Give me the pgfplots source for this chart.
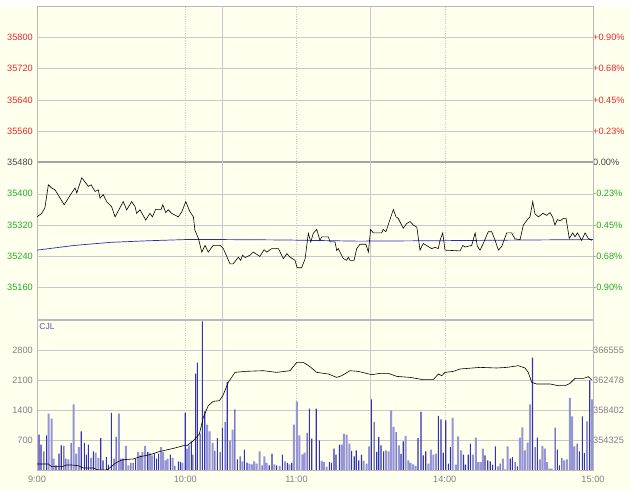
\documentclass[border=0pt]{standalone}
\usepackage{fontspec}
\setmainfont{Liberation Sans}
\usepackage{pgfplots}
\pgfplotsset{compat=1.18}
\usepackage{pgfplotstable}

\definecolor{bg}{RGB}{255,255,238}
\definecolor{gridcol}{RGB}{200,200,200}
\definecolor{framecol}{RGB}{185,185,185}
\definecolor{zerocol}{RGB}{165,165,165}
\definecolor{upred}{RGB}{240,40,40}
\definecolor{dngreen}{RGB}{40,170,40}
\definecolor{zerotxt}{RGB}{70,70,70}
\definecolor{lbltxt}{RGB}{130,130,130}
\definecolor{avgblue}{RGB}{40,40,190}
\definecolor{dblue}{RGB}{50,50,180}
\definecolor{lblue}{RGB}{150,150,215}
\definecolor{cjlcol}{RGB}{90,80,190}

% price (minutes of trading, index value)
\pgfplotstableread{
m p
0 35341
1.9 35350
3.2 35364
4.6 35423
5.9 35415
7.3 35410
11.0 35372
14.0 35402
15.4 35415
16.1 35402
18.1 35441
20.8 35419
21.9 35423
23.5 35406
24.8 35410
25.5 35389
26.8 35398
28.2 35380
30.2 35367
31.6 35341
34.9 35380
36.3 35359
38.3 35380
39.7 35367
40.3 35350
41.7 35359
44.0 35333
45.7 35350
46.7 35341
48.0 35360
50.2 35360
50.9 35372
52.1 35352
53.1 35359
54.5 35350
57.2 35341
58.6 35354
60.2 35380
61.9 35354
63.3 35341
63.9 35307
65.3 35286
66.7 35251
68.0 35268
69.3 35251
71.3 35268
74.1 35268
75.4 35260
78.1 35221
79.4 35221
81.5 35238
82.4 35230
83.2 35243
84.2 35237
86.2 35243
87.5 35251
90.2 35240
91.9 35257
93.0 35251
95.0 35260
97.7 35260
99.7 35234
101.1 35247
102.4 35238
104.4 35230
105.3 35211
107.1 35211
108.5 35234
109.8 35299
110.8 35277
111.8 35299
113.2 35309
114.5 35281
115.2 35290
117.9 35290
118.6 35277
120.6 35277
121.3 35255
121.9 35260
124.0 35234
125.3 35230
126.0 35238
126.7 35230
128.3 35230
129.4 35260
130.7 35271
133.1 35271
134.1 35251
135.0 35309
136.1 35300
139.5 35300
140.1 35309
141.2 35303
144.2 35360
145.3 35341
146.2 35337
148.2 35312
149.6 35324
151.0 35329
152.3 35320
153.7 35315
155.0 35256
156.3 35273
159.7 35260
161.1 35263
162.4 35260
163.1 35281
164.2 35300
165.1 35256
171.2 35254
172.3 35268
173.2 35264
174.5 35266
175.9 35268
177.3 35300
178.2 35266
179.3 35256
180.6 35273
182.6 35303
184.0 35303
185.4 35281
186.7 35256
188.1 35266
190.1 35300
192.1 35300
193.4 35285
195.5 35283
196.8 35320
198.8 35337
199.5 35341
200.6 35380
201.5 35349
202.9 35341
204.7 35350
206.3 35345
207.6 35352
208.7 35340
209.6 35320
210.6 35334
211.7 35331
213.0 35337
214.1 35337
215.4 35286
216.8 35300
217.7 35290
218.7 35300
220.4 35281
221.8 35300
223.1 35286
224.5 35281
}\price

% average price
\pgfplotstableread{
m p
0 35256
15 35268
30 35276
45 35280
60 35283
75 35283
100 35282
130 35279
160 35280
200 35282
225 35283
}\avgprice

% volume, up ticks (dark) and down ticks (light)
\pgfplotstableread{
m v
0.0 1900
0.8 825
1.6 590
2.8 435
3.9 810
7.7 110
8.9 380
9.8 575
10.9 560
11.7 265
13.8 630
17.9 900
19.2 630
20.0 360
20.8 590
22.8 435
25.8 745
26.7 225
28.1 300
28.9 125
30.1 1330
32.0 770
34.8 265
38.0 165
38.9 165
39.9 265
44.8 420
47.5 380
48.4 265
49.2 380
54.0 360
55.8 95
57.2 200
58.0 185
60.0 1340
62.5 670
63.1 360
64.2 2250
64.9 2505
66.0 850
66.9 3470
67.9 1370
72.0 445
73.0 745
74.1 420
75.0 980
76.1 1120
77.0 2050
80.1 1415
81.1 250
82.2 320
83.9 475
85.0 170
91.1 110
94.0 110
95.1 380
97.0 110
99.3 360
101.3 165
103.1 165
109.3 865
110.2 1430
111.2 730
113.0 1430
114.3 690
118.3 185
119.1 170
120.2 500
121.0 360
122.4 590
127.3 445
128.4 320
129.2 460
130.2 225
131.3 360
135.3 1650
136.4 1120
137.5 420
138.3 770
139.2 575
140.3 435
145.3 885
147.3 375
148.2 670
154.2 745
155.4 1355
156.3 340
157.3 435
162.4 1260
163.5 1180
164.4 405
165.4 1160
166.5 150
167.3 535
172.6 360
173.4 125
174.5 360
175.4 615
181.3 340
182.4 225
183.4 200
184.4 125
185.5 550
187.4 150
191.5 265
192.4 300
193.5 185
194.4 85
200.5 2620
201.6 535
202.5 755
209.7 990
210.6 475
211.4 110
212.4 280
218.6 615
219.5 435
220.7 1250
221.5 395
223.7 2090
}\volup

\pgfplotstableread{
m v
4.7 1315
5.9 1200
6.7 265
12.7 250
14.8 1530
15.8 380
16.9 535
21.9 280
23.7 405
24.8 280
31.2 265
33.1 1315
34.0 265
36.0 560
37.0 110
40.9 420
41.8 340
42.6 420
43.8 560
45.6 395
46.5 340
50.2 535
51.0 420
52.1 225
52.9 265
54.9 280
58.8 170
60.8 500
61.6 575
68.8 1060
69.9 900
71.1 630
78.1 690
79.2 940
83.1 200
85.9 150
87.0 130
87.9 200
88.9 150
90.1 435
92.0 320
92.9 165
96.1 130
98.2 95
100.4 200
102.1 130
104.0 1060
105.2 1600
106.2 810
107.4 365
108.3 405
115.2 210
116.1 185
117.2 70
123.3 590
124.2 850
125.3 825
126.4 615
132.2 210
133.4 150
134.4 550
141.2 460
142.3 435
143.3 1390
144.3 1005
146.4 575
149.2 795
150.3 225
151.2 165
152.2 130
153.2 95
158.4 150
159.4 475
160.4 360
161.5 380
168.2 1215
169.5 125
170.4 785
171.6 460
176.4 360
177.6 755
178.5 185
179.5 185
180.4 500
186.5 85
188.5 265
189.4 15
190.5 550
195.4 755
196.4 995
197.4 460
198.5 640
199.6 1530
203.5 250
204.5 560
205.5 500
206.4 185
207.4 30
208.3 30
213.3 225
214.4 250
215.6 1680
216.6 1250
217.5 550
222.6 1135
224.6 1650
}\voldown

% open interest (right scale of the lower panel)
\pgfplotstableread{
m oi
0 351064
4.6 351064
5.9 350697
10 350697
12 350928
14 350928
16.7 350833
18.7 350520
22.8 350520
24.8 350248
28.2 350248
30.2 350738
31.6 351145
33.6 351512
34.9 351648
39 351743
41.7 352056
45.7 352328
49.8 352776
55.2 353184
59.2 353551
60.6 353551
63.3 354230
65.7 355141
67.3 357397
69.3 358987
71.3 359571
73.8 359666
75.2 360346
77.4 362153
80.1 363512
84.2 363648
91.6 363743
97 363512
102.4 363743
105.1 364871
107.8 364871
110.5 364287
113.2 363512
117.9 363295
121.3 362833
123.3 363064
126.7 363743
130 363648
135.5 363200
138.8 363376
142.2 363376
145.6 362969
151 362833
156.3 362520
160.4 362520
162.4 363295
163.8 363064
165.1 363512
168.5 363648
171.2 363974
179.3 364192
186 364110
190.1 364192
194.8 364423
197.5 364110
198.8 363512
200.2 362153
202.2 361936
207.6 361936
211 361705
213.7 361705
215.7 362017
217.7 362697
221.1 362697
223.1 362928
224.5 362480
}\openint

\pgfplotsset{
  panel/.style={
    scale only axis, anchor=south west, width=556pt,
    xmin=0, xmax=225,
    scaled x ticks=false, scaled y ticks=false,
    axis line style={framecol},
    major tick length=0pt,
    tick label style={font=\fontsize{9.2}{10}\selectfont},
    yticklabel style={inner sep=0pt, xshift=-4pt},
  },
  vgrid/.style={
    xtick={60,105,165}, xmajorgrids,
    major grid style={gridcol, dotted},
    extra x ticks={75,135},
    extra x tick labels={},
    extra x tick style={grid=major, major grid style={gridcol, solid}},
  },
}

\begin{document}
\begin{tikzpicture}[x=1pt,y=1pt]
\path[use as bounding box, fill=bg] (0,0) rectangle (630,490);
\fill[white] (0,484) rectangle (630,490);

% ---------- upper panel: right labels and zero line
\begin{axis}[panel, at={(37pt,171pt)}, height=313pt,
  ymin=35080, ymax=35880,
  xtick=\empty,
  yticklabel pos=right,
  yticklabel style={inner sep=0pt, xshift=4pt},
  ytick={35160,35240,35320,35400,35560,35640,35720,35800},
  yticklabels={\textcolor{dngreen}{-0.90\%},\textcolor{dngreen}{-0.68\%},
    \textcolor{dngreen}{-0.45\%},\textcolor{dngreen}{-0.23\%},
    \textcolor{upred}{+0.23\%},\textcolor{upred}{+0.45\%},
    \textcolor{upred}{+0.68\%},\textcolor{upred}{+0.90\%}},
  extra y ticks={35480},
  extra y tick labels={\textcolor{zerotxt}{0.00\%}},
  extra y tick style={grid=major, major grid style={zerocol, line width=2pt}},
]
\end{axis}

% ---------- upper panel: price
\begin{axis}[panel, vgrid, at={(37pt,171pt)}, height=313pt,
  ymin=35080, ymax=35880,
  xticklabels={},
  ytick={35480},
  yticklabels={\textcolor{zerotxt}{35480}},
  extra y ticks={35160,35240,35320,35400,35560,35640,35720,35800},
  extra y tick labels={\textcolor{dngreen}{35160},\textcolor{dngreen}{35240},
    \textcolor{dngreen}{35320},\textcolor{dngreen}{35400},
    \textcolor{upred}{35560},\textcolor{upred}{35640},
    \textcolor{upred}{35720},\textcolor{upred}{35800}},
  extra y tick style={grid=major, major grid style={gridcol, solid}},
]
\addplot[avgblue, line width=0.7pt] table[x=m, y=p] {\avgprice};
\addplot[black, line width=0.6pt] table[x=m, y=p] {\price};
\end{axis}

% ---------- lower panel: volume
\begin{axis}[panel, at={(37pt,20pt)}, height=150pt,
  ymin=0, ymax=3500,
  xtick={0,60,105,165,225},
  xticklabels={9:00,10:00,11:00,14:00,15:00},
  xticklabel style={inner sep=0pt, yshift=-6pt, text=lbltxt},
  xmajorgrids,
  major grid style={gridcol, dotted},
  extra x ticks={75,135},
  extra x tick labels={},
  extra x tick style={grid=major, major grid style={gridcol, solid}},
  ytick=\empty,
  extra y ticks={700,1400,2100,2800},
  extra y tick labels={700,1400,2100,2800},
  extra y tick style={grid=major, major grid style={gridcol, solid},
    yticklabel style={text=lbltxt}},
]
\addplot[ybar, bar width=2pt, bar shift=0pt, fill=lblue, draw=none] table[x=m, y=v] {\voldown};
\addplot[ybar, bar width=1.1pt, bar shift=0pt, fill=dblue, draw=none] table[x=m, y=v] {\volup};
\node[anchor=north west, inner sep=0pt, text=cjlcol, font=\fontsize{8.5}{9}\selectfont]
  at (rel axis cs:0.004,0.975) {CJL};
\end{axis}

% ---------- lower panel: open interest, right scale
\begin{axis}[panel, at={(37pt,20pt)}, height=150pt,
  ymin=350248.3, ymax=370631.6,
  xtick=\empty,
  yticklabel pos=right,
  yticklabel style={inner sep=0pt, xshift=4pt, text=lbltxt},
  ytick={354325,358402,362478,366555},
  yticklabels={354325,358402,362478,366555},
]
\addplot[black, line width=0.6pt] table[x=m, y=oi] {\openint};
\end{axis}
\end{tikzpicture}
\end{document}
